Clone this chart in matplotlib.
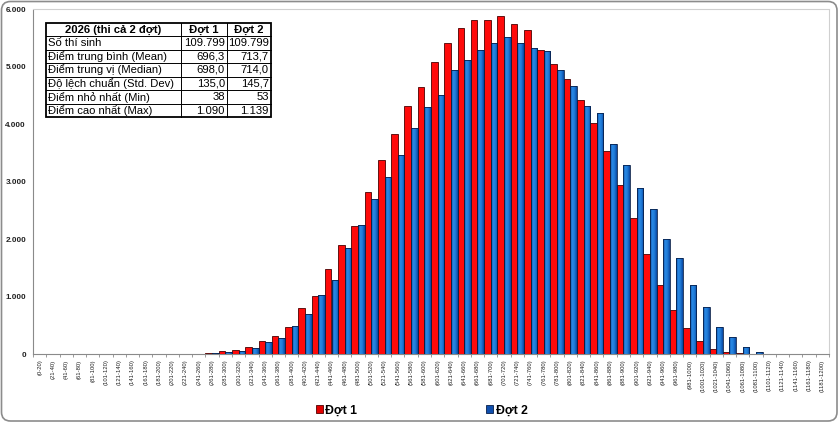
import matplotlib
matplotlib.use('Agg')
import matplotlib.pyplot as plt
import numpy as np
from matplotlib.patches import FancyBboxPatch, Rectangle, Patch
from matplotlib.colors import LinearSegmentedColormap

plt.rcParams['font.family'] = ['Liberation Sans', 'DejaVu Sans']

# ---------------- data ----------------
categories = ['(0-20)', '(21-40)', '(41-60)', '(61-80)', '(81-100)', '(101-120)',
              '(121-140)', '(141-160)', '(161-180)', '(181-200)', '(201-220)',
              '(221-240)', '(241-260)', '(261-280)', '(281-300)', '(301-320)',
              '(321-340)', '(341-360)', '(361-380)', '(381-400)', '(401-420)',
              '(421-440)', '(441-460)', '(461-480)', '(481-500)', '(501-520)',
              '(521-540)', '(541-560)', '(561-580)', '(581-600)', '(601-620)',
              '(621-640)', '(641-660)', '(661-680)', '(681-700)', '(701-720)',
              '(721-740)', '(741-760)', '(761-780)', '(781-800)', '(801-820)',
              '(821-840)', '(841-860)', '(861-880)', '(881-900)', '(901-920)',
              '(921-940)', '(941-960)', '(961-980)', '(981-1000)', '(1001-1020)',
              '(1021-1040)', '(1041-1060)', '(1061-1080)', '(1081-1100)',
              '(1101-1120)', '(1121-1140)', '(1141-1160)', '(1161-1180)',
              '(1181-1200)']

dot1 = [0, 2, 1, 0, 0, 0, 3, 3, 3, 3, 3, 4, 5, 10, 46, 69, 116, 225, 318, 462,
        798, 1017, 1485, 1896, 2225, 2815, 3381, 3832, 4318, 4653, 5086, 5416,
        5682, 5820, 5809, 5884, 5751, 5647, 5300, 5058, 4797, 4422, 4029, 3537,
        2948, 2370, 1734, 1196, 769, 451, 225, 80, 29, 10, 3, 0, 0, 0, 0, 0]

dot2 = [0, 0, 3, 0, 3, 3, 0, 3, 3, 3, 4, 4, 6, 12, 29, 58, 98, 202, 272, 480,
        694, 1029, 1283, 1844, 2243, 2699, 3075, 3468, 3936, 4295, 4508, 4942,
        5115, 5289, 5416, 5520, 5416, 5335, 5277, 4953, 4676, 4318, 4190, 3659,
        3295, 2884, 2532, 2006, 1670, 1196, 810, 463, 289, 122, 40, 6, 3, 0, 0, 0]

series_names = ['Đợt 1', 'Đợt 2']
y_ticks = [0, 1000, 2000, 3000, 4000, 5000, 6000]
y_tick_labels = ['0', '1.000', '2.000', '3.000', '4.000', '5.000', '6.000']

table_header = ['2026 (thi cả 2 đợt)', 'Đợt 1', 'Đợt 2']
row_labels = ['Số thí sinh', 'Điểm trung bình (Mean)', 'Điểm trung vị (Median)',
              'Độ lệch chuẩn (Std. Dev)', 'Điểm nhỏ nhất (Min)', 'Điểm cao nhất (Max)']
dot1_stats = ['109.799', '696,3', '698,0', '135,0', '38', '1.090']
dot2_stats = ['109.799', '713,7', '714,0', '145,7', '53', '1.139']

# ---------------- figure ----------------
W, H = 839, 423
fig = plt.figure(figsize=(W / 100, H / 100), dpi=100)
fig.patch.set_facecolor('white')

ax = fig.add_axes([33 / W, 1 - 354 / H, (829 - 33) / W, (354 - 9.5) / H])
x = np.arange(len(categories))

ax.bar(x - 0.25, dot1, width=0.5, color='#ff0a0a', edgecolor='#4a0000',
       linewidth=0.6, zorder=3)
blue_bars = ax.bar(x + 0.25, dot2, width=0.5, facecolor='none',
                   edgecolor='#08204a', linewidth=0.6, zorder=3)

cmap = LinearSegmentedColormap.from_list(
    'bl', ['#0b4ea6', '#2a8be6', '#1d78d6', '#0946a0'])
grad = np.linspace(0, 1, 32).reshape(1, -1)
for b in blue_bars:
    h = b.get_height()
    if h <= 0:
        continue
    im = ax.imshow(grad, extent=[b.get_x(), b.get_x() + b.get_width(), 0, h],
                   aspect='auto', cmap=cmap, interpolation='bilinear', zorder=2)
    im.set_clip_path(b)

ax.set_xlim(-0.5, len(categories) - 0.5)
ax.set_ylim(0, 6000)

for side in ['top', 'right']:
    ax.spines[side].set_color('#d0d0d0')
    ax.spines[side].set_linewidth(0.8)
for side in ['left', 'bottom']:
    ax.spines[side].set_color('#8a8a8a')
    ax.spines[side].set_linewidth(0.8)

ax.set_yticks(y_ticks)
ax.set_yticklabels(y_tick_labels, fontsize=5.9, fontweight='bold', color='#222222')
ax.tick_params(axis='y', length=0, pad=5)

ax.set_xticks(x)
ax.set_xticklabels(categories, rotation=90, fontsize=4.2, color='#222222')
ax.tick_params(axis='x', which='major', length=0, pad=4)
ax.set_xticks(np.arange(-0.5, len(categories)), minor=True)
ax.tick_params(axis='x', which='minor', length=2.5, color='#8a8a8a', width=0.6)

handles = [Patch(facecolor='#e00000', edgecolor='#500000', linewidth=0.6),
           Patch(facecolor='#0f4fae', edgecolor='#08204a', linewidth=0.6)]
fig.legend(handles=handles, labels=series_names, loc='center',
           bbox_to_anchor=(421.5 / W, 1 - 410.5 / H), ncol=2, frameon=False,
           prop={'weight': 'bold', 'size': 8.8}, handlelength=0.6,
           handleheight=0.6, handletextpad=0.2, columnspacing=10.5)

# ---------------- overlay: border + stats table ----------------
ov = fig.add_axes([0, 0, 1, 1], zorder=5)
ov.set_xlim(0, W)
ov.set_ylim(H, 0)
ov.axis('off')
ov.patch.set_alpha(0)

ov.add_patch(FancyBboxPatch((1.5, 1.5), W - 3.5, H - 3.5,
                            boxstyle='round,pad=0,rounding_size=9',
                            fill=False, edgecolor='#8c8c8c', linewidth=1.2))

xs = [45.7, 181.0, 226.7, 270.7]
top, bottom = 22.7, 117.3
n_rows = len(row_labels) + 1
rh = (bottom - top) / n_rows
ys = [top + i * rh for i in range(n_rows + 1)]

ov.add_patch(Rectangle((xs[0], top), xs[-1] - xs[0], bottom - top,
                       facecolor='white', edgecolor='none', zorder=1))
for yy in ys[1:-1]:
    ov.plot([xs[0], xs[-1]], [yy, yy], color='black', lw=0.7, zorder=2)
for xx in xs[1:-1]:
    ov.plot([xx, xx], [top, bottom], color='black', lw=0.7, zorder=2)
ov.add_patch(Rectangle((xs[0], top), xs[-1] - xs[0], bottom - top,
                       facecolor='none', edgecolor='black', lw=1.3, zorder=3))

fs = 8.1
for j, txt in enumerate(table_header):
    ov.text((xs[j] + xs[j + 1]) / 2, (ys[0] + ys[1]) / 2, txt, ha='center',
            va='center', fontsize=fs, fontweight='bold', zorder=4)
for i, lab in enumerate(row_labels):
    yc = (ys[i + 1] + ys[i + 2]) / 2
    ov.text(xs[0] + 2.5, yc, lab, ha='left', va='center', fontsize=fs, zorder=4)
    ov.text(xs[2] - 1.8, yc, dot1_stats[i], ha='right', va='center', fontsize=fs, zorder=4)
    ov.text(xs[3] - 1.8, yc, dot2_stats[i], ha='right', va='center', fontsize=fs, zorder=4)

fig.savefig('out.png', dpi=100)
